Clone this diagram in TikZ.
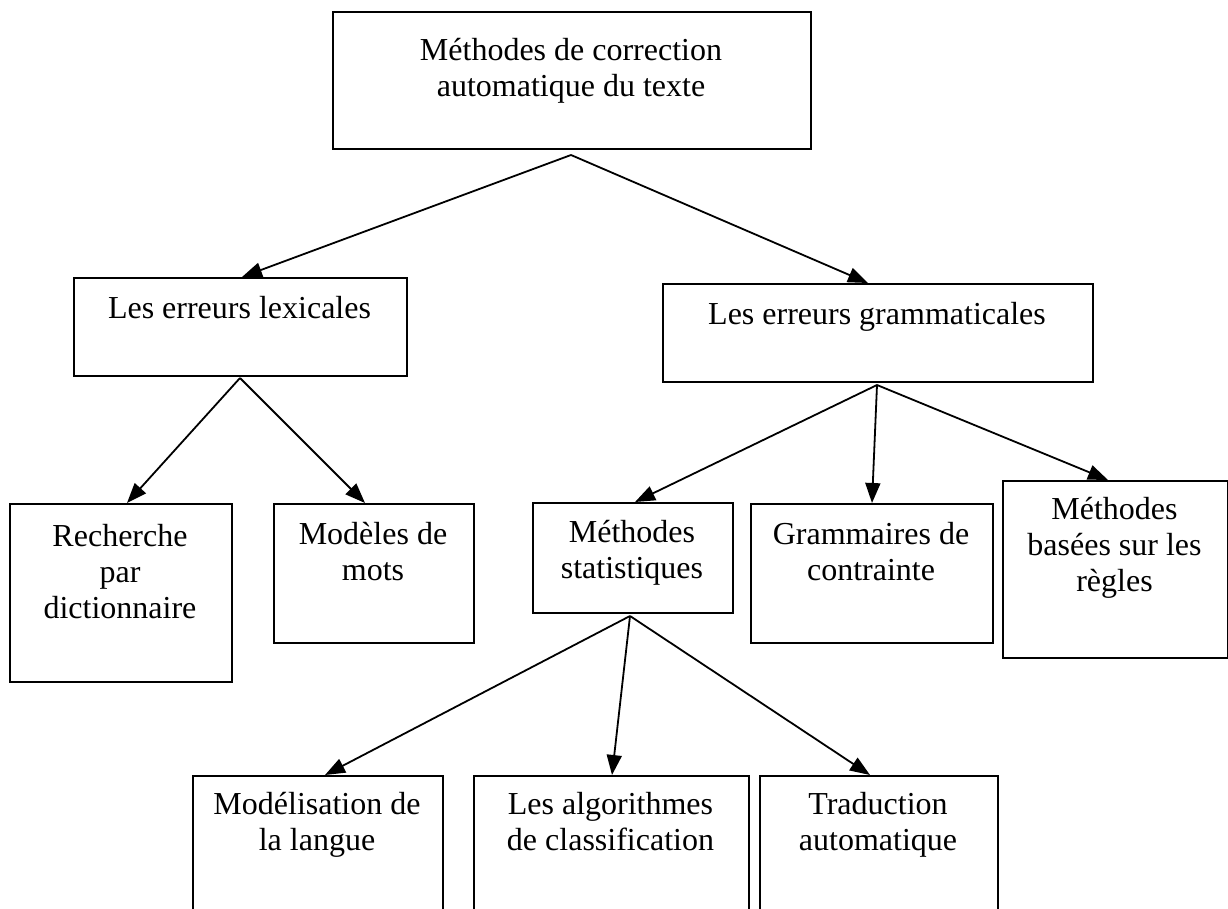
\documentclass[tikz,border=0pt]{standalone}
\usepackage{fontspec}
\setmainfont{Liberation Serif}
\usetikzlibrary{arrows.meta}
\tikzset{
  box/.style={draw, line width=2pt, rectangle, inner sep=0pt, anchor=north west},
  txt/.style={align=center, anchor=base, inner sep=0pt, font=\fontsize{32}{36}\selectfont},
  conn/.style={line width=1.8pt, -{Triangle[length=20pt,width=15pt]}}
}
\begin{document}
\begin{tikzpicture}[x=1pt,y=-1pt]
\useasboundingbox (0,0) rectangle (1228,909);
\clip (0,0) rectangle (1228,909);
% boxes
\node[box, minimum width=478, minimum height=137] (top) at (332,11) {};
\node[box, minimum width=333, minimum height=98] (lex) at (73,277) {};
\node[box, minimum width=430, minimum height=98] (gram) at (662,283) {};
\node[box, minimum width=222, minimum height=178] (rech) at (9,503) {};
\node[box, minimum width=200, minimum height=139] (mod) at (273,503) {};
\node[box, minimum width=200, minimum height=110] (stat) at (532,502) {};
\node[box, minimum width=242, minimum height=139] (gc) at (750,503) {};
\node[box, minimum width=225, minimum height=177] (regl) at (1002,480) {};
\node[box, minimum width=250, minimum height=200] (modl) at (192,775) {};
\node[box, minimum width=275, minimum height=200] (algo) at (473,775) {};
\node[box, minimum width=238, minimum height=200] (trad) at (759,775) {};
% texts (base = baseline of the last line)
\node[txt] (ttop) at (571,97) {Méthodes de correction\\automatique du texte};
\node[txt] (tlex) at (239.5,318) {Les erreurs lexicales};
\node[txt] (tgram) at (877,324) {Les erreurs grammaticales};
\node[txt] (trech) at (120,618) {Recherche\\par\\dictionnaire};
\node[txt] (tmod) at (373,580) {Modèles de\\mots};
\node[txt] (tstat) at (632,578) {Méthodes\\statistiques};
\node[txt] (tgc) at (871,580) {Grammaires de\\contrainte};
\node[txt] (tregl) at (1114.5,591) {Méthodes\\basées sur les\\règles};
\node[txt] (tmodl) at (317,850) {Modélisation de\\la langue};
\node[txt] (talgo) at (610.5,850) {Les algorithmes\\de classification};
\node[txt] (ttrad) at (878,850) {Traduction\\automatique};
% apex points
\coordinate (a0) at (571,155);
\coordinate (a1) at (240,378);
\coordinate (a2) at (877,385);
\coordinate (a3) at (630,616);
% connectors
\draw[conn] (a0) -- (242,0 |- lex.north);
\draw[conn] (a0) -- (868,0 |- gram.north);
\draw[conn] (a1) -- (127,0 |- rech.north);
\draw[conn] (a1) -- (365,0 |- mod.north);
\draw[conn] (a2) -- (635,0 |- stat.north);
\draw[conn] (a2) -- (872,0 |- gc.north);
\draw[conn] (a2) -- (1108,0 |- regl.north);
\draw[conn] (a3) -- (325,0 |- modl.north);
\draw[conn] (a3) -- (612,0 |- algo.north);
\draw[conn] (a3) -- (870,0 |- trad.north);
\end{tikzpicture}
\end{document}
